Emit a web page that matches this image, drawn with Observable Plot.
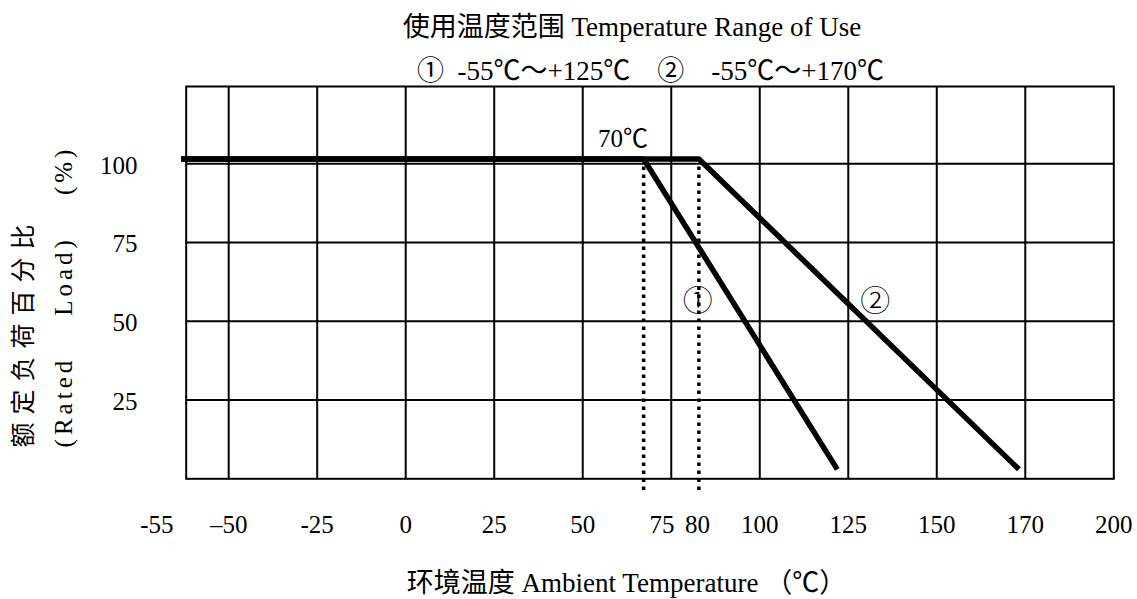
<!DOCTYPE html>
<html><head><meta charset="utf-8">
<script src="https://cdn.jsdelivr.net/npm/d3@7"></script>
<script src="https://cdn.jsdelivr.net/npm/@observablehq/plot@0.6"></script>
<style>
body{margin:0;background:#fff}
svg{display:block}
svg text{white-space:pre}
</style>
</head><body><div id="chart"></div>
<script>
// ---- data ----
const xTickLabels = ["-55", "–50", "-25", "0", "25", "50", "75", "80", "100", "125", "150", "170", "200"];
const xTickAt     = [-70.3, -50, -25, 0, 25, 50, 72.4, 82.4, 100, 125, 150, 175, 200];
const yTickLabels = ["100", "75", "50", "25"];
const yTickAt     = [100, 75, 50, 25];
const gridX = [-50, -25, 0, 25, 50, 75, 100, 125, 150, 175];
const gridY = [25, 50, 75, 100];
const xDomain = [-62, 200];
const yDomain = [0, 124.5];
// derating curves (temperature, % rated load)
const curve1Temp = [-63.4, 67.2, 121.9];
const curve1Load = [101.5, 101.5, 3];
const curve2Temp = [-63.4, 82.8, 173.2];
const curve2Load = [101.5, 101.5, 3];
// dotted drop lines at the knees
const dropTemp = [67.2, 82.8];
const dropTop = 100, dropBottom = -3.7;
// annotations
const kneeNote = ["70℃"];
const kneeNoteTemp = [61.4];
const kneeNoteLoad = [107.8];
const curveNotes = ["①", "②"];
const curveNoteTemp = [82.5, 132.6];
const curveNoteLoad = [56.3, 56.3];
const titleLines = ["使用温度范围 Temperature Range of Use", "①  -55℃～+125℃    ②    -55℃～+170℃"];
const xLabel = "环境温度 Ambient Temperature （℃）";
const yLabelCN = "额定负荷百分比";
const yLabelEN = "(Rated    Load)    (%)";

const FONT = '"Liberation Serif", "Times New Roman", "Noto Sans CJK SC", serif';
const pts = (xs, ys) => xs.map((x, i) => ({x, y: ys[i]}));

const W = 1137, H = 599, mL = 185.7, mR = 23.7, mT = 86, mB = 120.7;
const midX = (mL + (W - mR)) / 2, midY = (mT + (H - mB)) / 2;

const plot = Plot.plot({
  width: W, height: H,
  marginLeft: mL, marginRight: mR, marginTop: mT, marginBottom: mB,
  x: {domain: xDomain, axis: null},
  y: {domain: yDomain, axis: null},
  style: {fontFamily: FONT, background: "#fff", color: "#000", overflow: "visible"},
  marks: [
    Plot.ruleX(gridX, {stroke: "#000", strokeWidth: 2}),
    Plot.ruleY(gridY, {stroke: "#000", strokeWidth: 2}),
    Plot.frame({stroke: "#000", strokeWidth: 2}),
    Plot.ruleX(dropTemp, {y1: dropBottom, y2: dropTop, stroke: "#000", strokeWidth: 3.5, strokeDasharray: "3.5,4.5"}),
    Plot.line(pts(curve1Temp, curve1Load), {x: "x", y: "y", stroke: "#000", strokeWidth: 5.5, strokeLinejoin: "miter", strokeLinecap: "butt"}),
    Plot.line(pts(curve2Temp, curve2Load), {x: "x", y: "y", stroke: "#000", strokeWidth: 5.5, strokeLinejoin: "miter", strokeLinecap: "butt"}),
    Plot.text(kneeNote, {x: (d, i) => kneeNoteTemp[i], y: (d, i) => kneeNoteLoad[i], fontSize: 25}),
    Plot.text(curveNotes, {x: (d, i) => curveNoteTemp[i], y: (d, i) => curveNoteLoad[i], fontSize: 30, fontWeight: 300}),
    Plot.text(xTickLabels, {x: (d, i) => xTickAt[i], frameAnchor: "bottom", lineAnchor: "middle", dy: 46, fontSize: 25}),
    Plot.text(yTickLabels, {y: (d, i) => yTickAt[i], frameAnchor: "left", textAnchor: "end", lineAnchor: "middle", dx: 137 - mL, dy: 2, fontSize: 25}),
    Plot.text([titleLines[0]], {frameAnchor: "top", lineAnchor: "middle", textAnchor: "middle", dx: 631.5 - midX, dy: 27 - mT, fontSize: 27}),
    Plot.text([titleLines[1]], {frameAnchor: "top", lineAnchor: "middle", textAnchor: "middle", dx: 650 - midX, dy: 70.5 - mT, fontSize: 27}),
    Plot.text([xLabel], {frameAnchor: "bottom", lineAnchor: "middle", textAnchor: "middle", dx: 626 - midX, dy: 583 - (H - mB), fontSize: 27}),
    Plot.text([yLabelCN], {frameAnchor: "left", textAnchor: "middle", lineAnchor: "middle", rotate: -90, dx: 23 - mL, dy: 331.5 - midY, fontSize: 25}),
    Plot.text([yLabelEN], {frameAnchor: "left", textAnchor: "middle", lineAnchor: "middle", rotate: -90, dx: 63 - mL, dy: 296 - midY, fontSize: 25})
  ]
});
d3.select(plot).selectAll("text").each(function() {
  const t = this.textContent;
  if (t === yLabelCN) this.setAttribute("letter-spacing", "8");
  if (t === yLabelEN) this.setAttribute("letter-spacing", "4");
});
document.getElementById("chart").appendChild(plot);
</script>
</body></html>
